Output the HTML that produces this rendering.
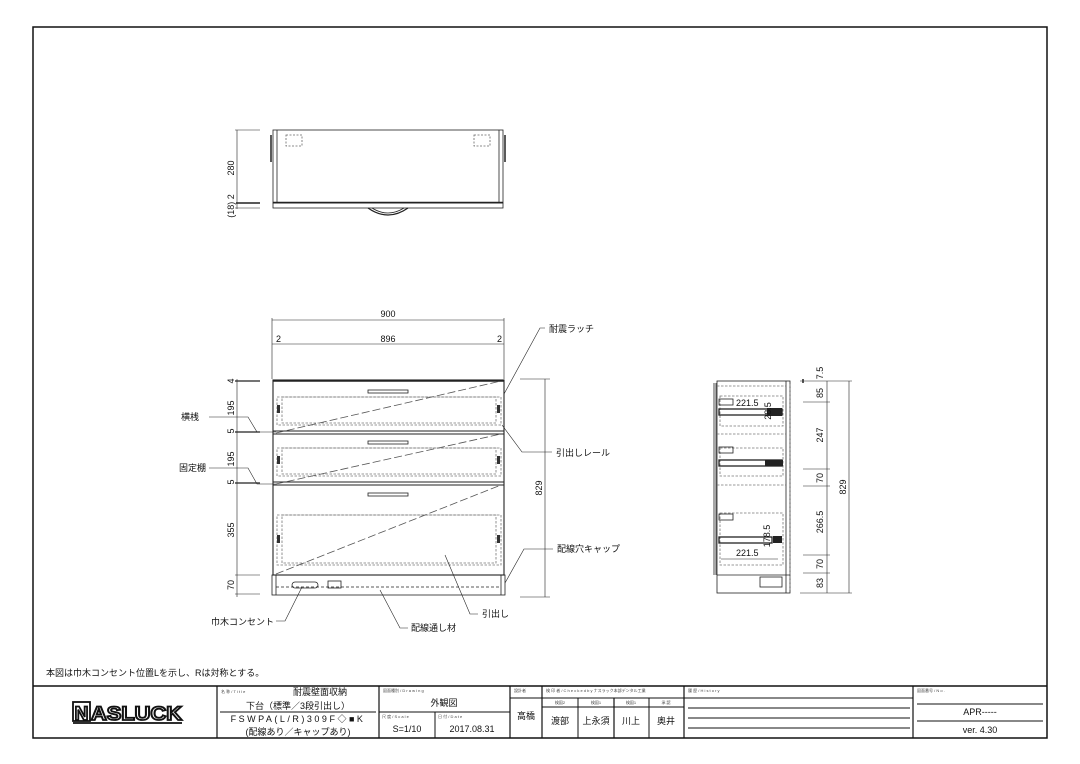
<!DOCTYPE html>
<html><head><meta charset="utf-8"><style>
html,body{margin:0;padding:0;background:#fff;}
svg{display:block;font-family:"Liberation Sans","Noto Sans CJK JP",sans-serif;}
.t{font-size:9px;fill:#111;}
.s{font-size:4px;fill:#444;}
</style></head><body>
<svg width="1080" height="764" viewBox="0 0 1080 764" xmlns="http://www.w3.org/2000/svg">
<rect width="1080" height="764" fill="#fff"/>
<rect x="33" y="27" width="1014" height="711" fill="none" stroke="#111" stroke-width="1.5"/>
<line x1="33" y1="686" x2="1047" y2="686" stroke="#111" stroke-width="1.5"/>
<g stroke="#111" fill="none">
<line x1="217" y1="686" x2="217" y2="738" stroke-width="1.2"/>
<line x1="379" y1="686" x2="379" y2="738" stroke-width="1.2"/>
<line x1="510" y1="686" x2="510" y2="738" stroke-width="1.2"/>
<line x1="542" y1="686" x2="542" y2="738" stroke-width="1.2"/>
<line x1="684" y1="686" x2="684" y2="738" stroke-width="1.2"/>
<line x1="913" y1="686" x2="913" y2="738" stroke-width="1.2"/>
<line x1="220" y1="712" x2="376" y2="712" stroke-width="1"/>
<line x1="379" y1="712" x2="510" y2="712"/>
<line x1="435" y1="712" x2="435" y2="738"/>
<line x1="510" y1="698" x2="684" y2="698"/>
<line x1="684" y1="698" x2="913" y2="698"/>
<line x1="542" y1="707" x2="684" y2="707"/>
<line x1="578" y1="698" x2="578" y2="738"/>
<line x1="614" y1="698" x2="614" y2="738" stroke-width="1.2"/>
<line x1="649" y1="698" x2="649" y2="738"/>
<line x1="688" y1="708" x2="910" y2="708"/>
<line x1="688" y1="718" x2="910" y2="718"/>
<line x1="688" y1="728" x2="910" y2="728"/>
<line x1="917" y1="704" x2="1043" y2="704"/>
<line x1="917" y1="721" x2="1043" y2="721"/>
</g>
<rect x="73" y="702" width="17" height="19" fill="none" stroke="#111" stroke-width="1.8"/>
<text x="81.5" y="720" font-size="19" font-weight="bold" text-anchor="middle" fill="#fff" stroke="#111" stroke-width="1.8">N</text>
<text x="91" y="720" font-size="19" font-weight="bold" fill="#fff" stroke="#111" stroke-width="1.8" textLength="91" lengthAdjust="spacingAndGlyphs">ASLUCK</text>
<line x1="73" y1="723" x2="182" y2="723" stroke="#111" stroke-width="1.8"/>
<text x="221" y="693" class="s">名 称 / T i t l e</text>
<text x="320" y="695" class="t" font-size="8.5" text-anchor="middle">耐震壁面収納</text>
<text x="298" y="709" class="t" font-size="8.5" text-anchor="middle">下台（標準／3段引出し）</text>
<text x="298" y="722" class="t" font-size="8.5" text-anchor="middle" letter-spacing="2.5">FSWPA(L/R)309F◇■K</text>
<text x="298" y="735" class="t" font-size="8.5" text-anchor="middle">(配線あり／キャップあり)</text>
<text x="383" y="692" class="s">図面種別 / D r a w i n g</text>
<text x="444" y="706" class="t" font-size="8" text-anchor="middle">外観図</text>
<text x="382" y="718" class="s">尺 度 / S c a l e</text>
<text x="438" y="718" class="s">日 付 / D a t e</text>
<text x="407" y="732" class="t" font-size="7" text-anchor="middle">S=1/10</text>
<text x="472" y="732" class="t" font-size="7" text-anchor="middle">2017.08.31</text>
<text x="514" y="692" class="s">設計者</text>
<text x="526" y="719" class="t" font-size="6" text-anchor="middle">高橋</text>
<text x="546" y="692" class="s">検 印 者 / C h e c k e d  b y  ナスラック本部デンタル工業</text>
<text x="688" y="692" class="s">履 歴 / H i s t o r y</text>
<text x="917" y="692" class="s">図面番号 / N o .</text>
<text x="560" y="704" class="s" text-anchor="middle">検図2</text>
<text x="596" y="704" class="s" text-anchor="middle">検図1</text>
<text x="631" y="704" class="s" text-anchor="middle">検図1</text>
<text x="666" y="704" class="s" text-anchor="middle">承 認</text>
<text x="560" y="724" class="t" font-size="6" text-anchor="middle">渡部</text>
<text x="596" y="724" class="t" font-size="6" text-anchor="middle">上永須</text>
<text x="631" y="724" class="t" font-size="6" text-anchor="middle">川上</text>
<text x="666" y="724" class="t" font-size="6" text-anchor="middle">奥井</text>
<text x="980" y="715" class="t" font-size="6" text-anchor="middle">APR-----</text>
<text x="980" y="733" class="t" font-size="6" text-anchor="middle">ver. 4.30</text>
<text x="46" y="676" class="t" font-size="8">本図は巾木コンセント位置Lを示し、Rは対称とする。</text>

<g stroke="#222" fill="none" stroke-width="0.8">
<rect x="273" y="130" width="230" height="73"/>
<line x1="277" y1="130" x2="277" y2="203"/>
<line x1="499" y1="130" x2="499" y2="203"/>
<line x1="271" y1="135" x2="271" y2="162" stroke-width="1.5"/>
<line x1="505" y1="135" x2="505" y2="162" stroke-width="1.5"/>
<line x1="273" y1="202.5" x2="503" y2="202.5" stroke-width="1.5"/>
<rect x="273" y="203" width="230" height="5"/>
<path d="M368 208 Q388 222 408 208" stroke-width="1.2"/>
<path d="M372 208 Q388 218 404 208"/>
<rect x="286" y="135" width="16" height="11" stroke-dasharray="2,1.5" stroke="#666"/>
<rect x="474" y="135" width="16" height="11" stroke-dasharray="2,1.5" stroke="#666"/>
<line x1="237" y1="130" x2="237" y2="209" stroke-width="0.6"/>
<line x1="235" y1="130" x2="260" y2="130" stroke-width="0.6"/>
<line x1="236" y1="203" x2="260" y2="203" stroke-width="1.5"/>
<line x1="235" y1="208" x2="260" y2="208" stroke-width="0.6"/>
</g>
<text class="t" font-size="8" transform="translate(234,168) rotate(-90)" text-anchor="middle">280</text>
<text class="t" font-size="8" transform="translate(234,206) rotate(-90)" text-anchor="middle">(18) 2</text>

<g stroke="#222" fill="none" stroke-width="0.6">
<line x1="272" y1="320" x2="504" y2="320"/>
<line x1="272" y1="344" x2="504" y2="344"/>
<line x1="272" y1="318" x2="272" y2="379"/>
<line x1="504" y1="318" x2="504" y2="379"/>
<line x1="237" y1="379" x2="237" y2="597"/>
<line x1="545" y1="379" x2="545" y2="597"/>
<line x1="520" y1="379" x2="550" y2="379"/>
<line x1="520" y1="597" x2="550" y2="597"/>
<line x1="235" y1="381" x2="260" y2="381" stroke-width="1.3"/>
<line x1="235" y1="432" x2="260" y2="432" stroke-width="1.3"/>
<line x1="235" y1="483" x2="260" y2="483" stroke-width="1.3"/>
<line x1="235" y1="575" x2="260" y2="575"/>
<line x1="235" y1="594" x2="260" y2="594"/>
</g>
<text x="388" y="317" class="t" font-size="8" text-anchor="middle">900</text>
<text x="388" y="342" class="t" font-size="8" text-anchor="middle">896</text>
<text x="276" y="342" class="t" font-size="8">2</text>
<text x="497" y="342" class="t" font-size="8">2</text>
<text class="t" font-size="8" transform="translate(234,381) rotate(-90)" text-anchor="middle">4</text>
<text class="t" font-size="8" transform="translate(234,408) rotate(-90)" text-anchor="middle">195</text>
<text class="t" font-size="8" transform="translate(234,431) rotate(-90)" text-anchor="middle">5</text>
<text class="t" font-size="8" transform="translate(234,459) rotate(-90)" text-anchor="middle">195</text>
<text class="t" font-size="8" transform="translate(234,482) rotate(-90)" text-anchor="middle">5</text>
<text class="t" font-size="8" transform="translate(234,530) rotate(-90)" text-anchor="middle">355</text>
<text class="t" font-size="8" transform="translate(234,585) rotate(-90)" text-anchor="middle">70</text>
<text class="t" font-size="8" transform="translate(542,488) rotate(-90)" text-anchor="middle">829</text>

<g stroke="#222" fill="none" stroke-width="0.8">
<rect x="273" y="380" width="231" height="195" stroke-width="1.1"/>
<line x1="273" y1="381" x2="504" y2="381" stroke-width="1.5"/>
<rect x="273" y="431" width="231" height="3" stroke-width="1"/>
<rect x="273" y="482" width="231" height="3" stroke-width="1"/>
<rect x="272" y="575" width="233" height="20"/>
<line x1="276" y1="575" x2="276" y2="595"/>
<line x1="501" y1="575" x2="501" y2="595"/>
<line x1="276" y1="587" x2="501" y2="587" stroke-dasharray="3,2"/>
<g stroke="#777" stroke-dasharray="2.5,1.5">
<rect x="277" y="397" width="224" height="28"/>
<rect x="282" y="397" width="214" height="26"/>
<rect x="277" y="448" width="224" height="28"/>
<rect x="282" y="448" width="214" height="26"/>
<rect x="277" y="515" width="224" height="50"/>
<rect x="282" y="515" width="214" height="48"/>
</g>
<rect x="368" y="390" width="40" height="3"/>
<rect x="368" y="441" width="40" height="3"/>
<rect x="368" y="493" width="40" height="3"/>
<g stroke="#555" stroke-dasharray="8,3">
<line x1="276" y1="433" x2="501" y2="381"/>
<line x1="276" y1="484" x2="501" y2="434"/>
<line x1="276" y1="574" x2="501" y2="485"/>
</g>
<g fill="#333" stroke="none">
<rect x="277" y="405" width="3" height="8"/><rect x="497" y="405" width="3" height="8"/>
<rect x="277" y="456" width="3" height="8"/><rect x="497" y="456" width="3" height="8"/>
<rect x="277" y="535" width="3" height="8"/><rect x="497" y="535" width="3" height="8"/>
</g>
<rect x="292" y="582" width="26" height="6" rx="3"/>
<rect x="328" y="581" width="13" height="7"/>
</g>
<g stroke="#222" fill="none" stroke-width="0.6">
<polyline points="209,417 248,417 257,432 276,432"/>
<polyline points="209,468 248,468 257,484 276,484"/>
<polyline points="545,328 540,328 504,394"/>
<polyline points="552,452 522,452 502,425"/>
<polyline points="553,549 524,549 505,583"/>
<polyline points="276,621 285,621 302,587"/>
<polyline points="408,628 400,628 380,590"/>
<polyline points="478,614 470,614 445,555"/>
</g>
<text x="199" y="420" class="t" text-anchor="end">横桟</text>
<text x="206" y="471" class="t" text-anchor="end">固定棚</text>
<text x="549" y="332" class="t">耐震ラッチ</text>
<text x="556" y="456" class="t">引出しレール</text>
<text x="557" y="552" class="t">配線穴キャップ</text>
<text x="274" y="625" class="t" text-anchor="end">巾木コンセント</text>
<text x="411" y="631" class="t">配線通し材</text>
<text x="482" y="617" class="t">引出し</text>

<g stroke="#222" fill="none" stroke-width="0.8">
<rect x="717" y="381" width="73" height="212"/>
<line x1="714" y1="383" x2="714" y2="575"/>
<line x1="716" y1="383" x2="716" y2="575"/>
<line x1="717" y1="575" x2="790" y2="575"/>
<line x1="786" y1="381" x2="786" y2="593"/>
<g stroke="#777" stroke-dasharray="2.5,1.5">
<line x1="717" y1="386" x2="786" y2="386"/>
<rect x="720" y="396" width="63" height="30"/>
<rect x="720" y="448" width="63" height="28"/>
<rect x="720" y="513" width="63" height="52"/>
<line x1="717" y1="485" x2="786" y2="485"/>
<line x1="717" y1="434" x2="786" y2="434"/>
<line x1="790" y1="384" x2="790" y2="590"/>
</g>
<rect x="719" y="399" width="14" height="6"/>
<rect x="719" y="447" width="14" height="6"/>
<rect x="719" y="514" width="14" height="6"/>
<rect x="719" y="409" width="63" height="6" stroke-width="1.3"/>
<rect x="719" y="460" width="63" height="6" stroke-width="1.3"/>
<rect x="719" y="537" width="53" height="6" stroke-width="1.3"/>
<rect x="760" y="577" width="22" height="10"/>
<line x1="721" y1="559" x2="778" y2="559" stroke-width="0.5"/>
</g>
<g fill="#222"><rect x="767" y="408" width="15" height="8"/><rect x="765" y="460" width="18" height="6"/><rect x="773" y="536" width="9" height="7"/></g>
<text x="736" y="406" class="t" font-size="10">221.5</text>
<text x="736" y="556" class="t" font-size="10">221.5</text>
<text class="t" font-size="9" transform="translate(771,411) rotate(-90)" text-anchor="middle">28.5</text>
<text class="t" font-size="9" transform="translate(770,536) rotate(-90)" text-anchor="middle">178.5</text>
<g stroke="#222" fill="none" stroke-width="0.6">
<line x1="827" y1="381" x2="827" y2="593"/>
<line x1="849" y1="381" x2="849" y2="593"/>
<line x1="800" y1="381" x2="852" y2="381"/>
<line x1="800" y1="593" x2="852" y2="593"/>
<line x1="803" y1="402" x2="830" y2="402"/>
<line x1="803" y1="469" x2="830" y2="469"/>
<line x1="803" y1="486" x2="830" y2="486"/>
<line x1="803" y1="555" x2="830" y2="555"/>
<line x1="803" y1="573" x2="830" y2="573"/>
<line x1="803" y1="379" x2="803" y2="383" stroke-width="1.5"/>
</g>
<text class="t" font-size="8" transform="translate(823,373) rotate(-90)" text-anchor="middle">7.5</text>
<text class="t" font-size="8" transform="translate(823,393) rotate(-90)" text-anchor="middle">85</text>
<text class="t" font-size="8" transform="translate(823,435) rotate(-90)" text-anchor="middle">247</text>
<text class="t" font-size="8" transform="translate(823,478) rotate(-90)" text-anchor="middle">70</text>
<text class="t" font-size="8" transform="translate(823,522) rotate(-90)" text-anchor="middle">266.5</text>
<text class="t" font-size="8" transform="translate(823,564) rotate(-90)" text-anchor="middle">70</text>
<text class="t" font-size="8" transform="translate(823,583) rotate(-90)" text-anchor="middle">83</text>
<text class="t" font-size="8" transform="translate(846,487) rotate(-90)" text-anchor="middle">829</text>
</svg>
</body></html>
